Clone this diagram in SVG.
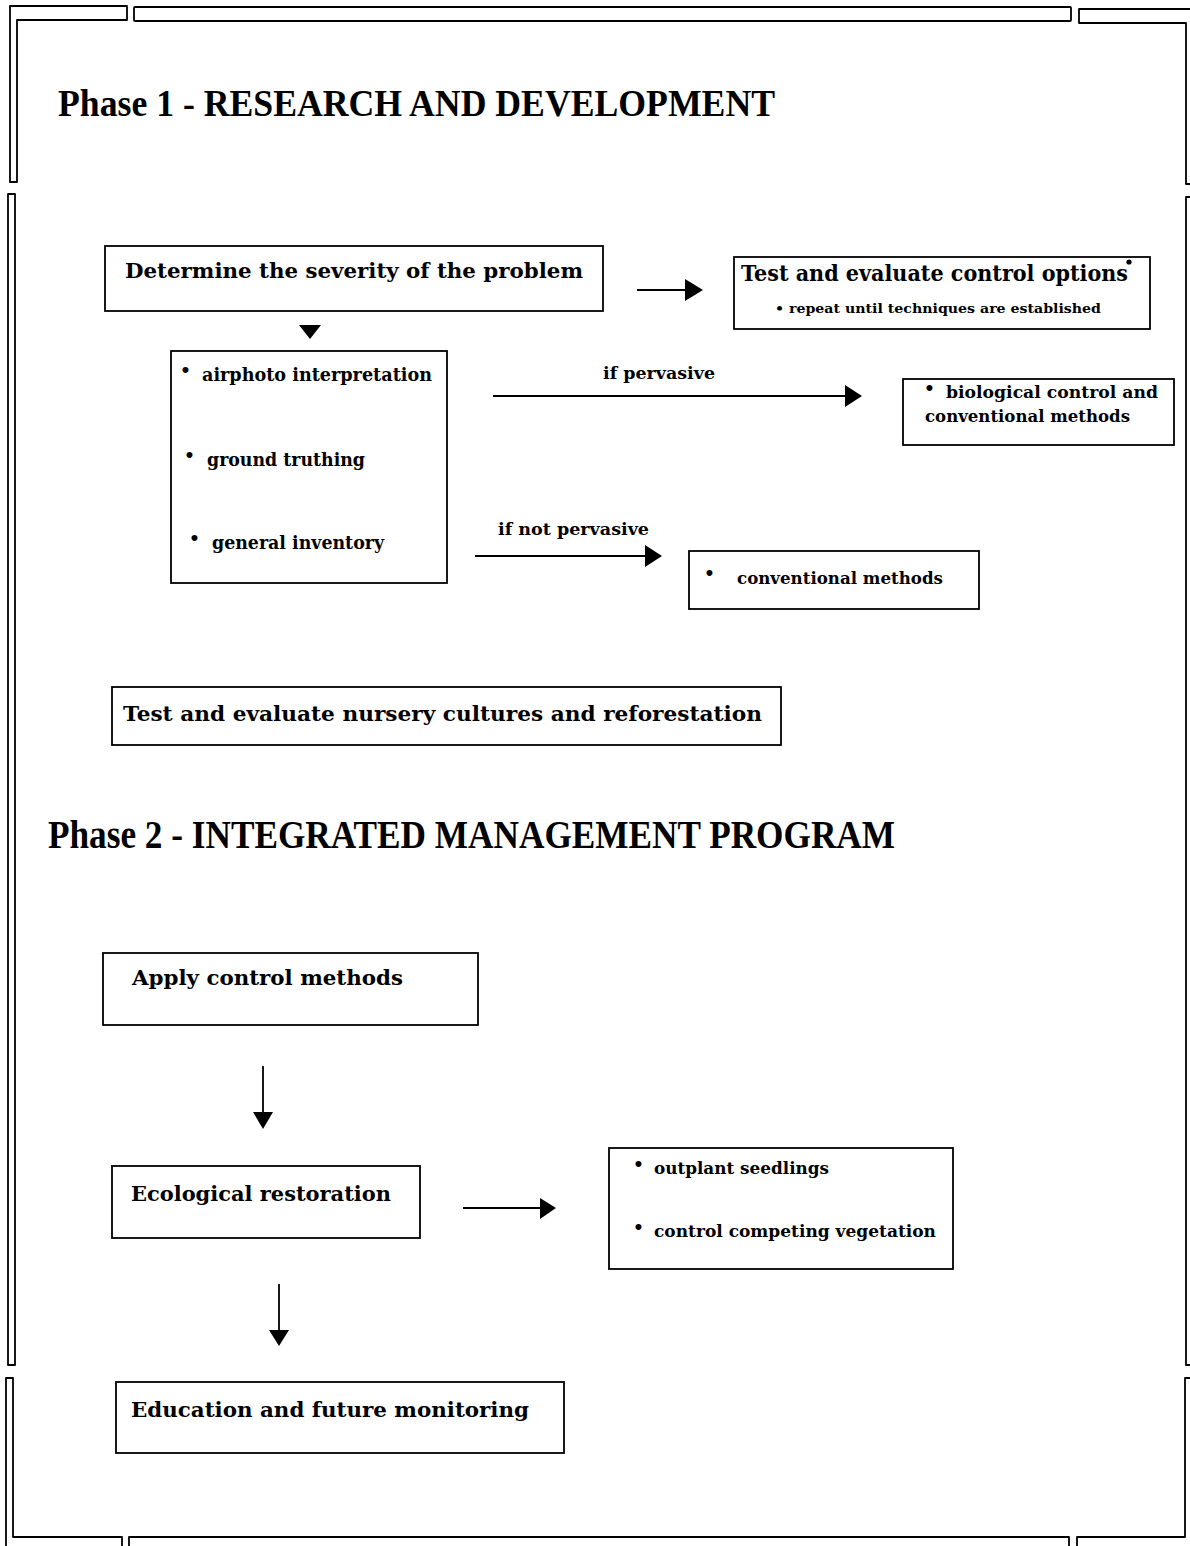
<svg xmlns="http://www.w3.org/2000/svg" width="1190" height="1546" viewBox="0 0 1190 1546">
<style>
.frame{fill:none;stroke:#000;stroke-width:1.8;stroke-linejoin:round}
.box{fill:#fff;stroke:#000;stroke-width:1.8}
.h{font-family:"Liberation Serif","Times New Roman",serif;font-weight:bold;fill:#000}
.t{font-family:"DejaVu Serif","Liberation Serif",serif;font-weight:bold;fill:#000}
.conn line{stroke:#000;stroke-width:1.8}
.conn polygon{fill:#000}
</style>
<rect width="1190" height="1546" fill="#fff"/>
<g id="frame">
<path class="frame" d="M10,182 L10,6 L127,6 L127,20 L17,20 L17,182 Z"/>
<rect class="frame" x="134" y="7" width="937" height="14" rx="1"/>
<path class="frame" d="M1192,9 L1079,9 L1079,23 L1186,23 L1186,184 L1192,184"/>
<path class="frame" d="M8,1365 L8,194 L15,194 L15,1365 Z"/>
<path class="frame" d="M1192,197 L1186,197 L1186,1365 L1192,1365"/>
<path class="frame" d="M6,1546 L6,1378 L13,1378 L13,1537 L122,1537 L122,1546"/>
<path class="frame" d="M129,1546 L129,1537 L1069,1537 L1069,1546"/>
<path class="frame" d="M1077,1546 L1077,1537 L1185,1537 L1185,1378 L1192,1378"/>
</g>
<g id="titles">
<text class="h" x="58" y="116" font-size="37" textLength="717" lengthAdjust="spacingAndGlyphs">Phase 1 - RESEARCH AND DEVELOPMENT</text>
<text class="h" x="48" y="848" font-size="39" textLength="847" lengthAdjust="spacingAndGlyphs">Phase 2 - INTEGRATED MANAGEMENT PROGRAM</text>
</g>
<g id="connectors" class="conn">
<line x1="637" y1="290" x2="686" y2="290"/>
<polygon points="685,279 703,290 685,301"/>
<polygon points="299,325 321,325 310,339"/>
<line x1="493" y1="396" x2="846" y2="396"/>
<polygon points="845,385 862,396 845,407"/>
<line x1="475" y1="556" x2="646" y2="556"/>
<polygon points="645,545 662,556 645,567"/>
<line x1="263" y1="1066" x2="263" y2="1113"/>
<polygon points="253,1112 273,1112 263,1129"/>
<line x1="463" y1="1208" x2="541" y2="1208"/>
<polygon points="540,1198 556,1208 540,1219"/>
<line x1="279" y1="1284" x2="279" y2="1331"/>
<polygon points="269,1330 289,1330 279,1346"/>
</g>
<g id="labels">
<text class="t" x="603" y="379" font-size="16" textLength="112" lengthAdjust="spacingAndGlyphs">if pervasive</text>
<text class="t" x="498" y="535" font-size="16" textLength="151" lengthAdjust="spacingAndGlyphs">if not pervasive</text>
</g>
<g id="n-severity">
<rect class="box" x="105" y="246" width="498" height="65"/>
<text class="t" x="125" y="278" font-size="21" textLength="458" lengthAdjust="spacingAndGlyphs">Determine the severity of the problem</text>
</g>
<g id="n-control-options">
<rect class="box" x="734" y="257" width="416" height="72"/>
<text class="t" x="741" y="281" font-size="22" textLength="387" lengthAdjust="spacingAndGlyphs">Test and evaluate control options</text>
<circle cx="1129" cy="262" r="2.6"/>
<text class="t" x="775" y="313" font-size="12" textLength="326" lengthAdjust="spacingAndGlyphs">• repeat until techniques are established</text>
</g>
<g id="n-assessment">
<rect class="box" x="171" y="351" width="276" height="232"/>
<text class="t" x="180" y="376" font-size="17">•</text>
<text class="t" x="202" y="381" font-size="18" textLength="230" lengthAdjust="spacingAndGlyphs">airphoto interpretation</text>
<text class="t" x="184" y="461" font-size="17">•</text>
<text class="t" x="207" y="466" font-size="18" textLength="158" lengthAdjust="spacingAndGlyphs">ground truthing</text>
<text class="t" x="189" y="544" font-size="17">•</text>
<text class="t" x="212" y="549" font-size="18" textLength="172" lengthAdjust="spacingAndGlyphs">general inventory</text>
</g>
<g id="n-biological">
<rect class="box" x="903" y="379" width="271" height="66"/>
<text class="t" x="924" y="394" font-size="17">•</text>
<text class="t" x="946" y="398" font-size="17" textLength="212" lengthAdjust="spacingAndGlyphs">biological control and</text>
<text class="t" x="925" y="422" font-size="17" textLength="205" lengthAdjust="spacingAndGlyphs">conventional methods</text>
</g>
<g id="n-conventional">
<rect class="box" x="689" y="551" width="290" height="58"/>
<text class="t" x="704" y="579" font-size="17">•</text>
<text class="t" x="737" y="584" font-size="17" textLength="206" lengthAdjust="spacingAndGlyphs">conventional methods</text>
</g>
<g id="n-nursery">
<rect class="box" x="112" y="687" width="669" height="58"/>
<text class="t" x="123" y="721" font-size="21" textLength="639" lengthAdjust="spacingAndGlyphs">Test and evaluate nursery cultures and reforestation</text>
</g>
<g id="n-apply">
<rect class="box" x="103" y="953" width="375" height="72"/>
<text class="t" x="132" y="985" font-size="21" textLength="271" lengthAdjust="spacingAndGlyphs">Apply control methods</text>
</g>
<g id="n-restoration">
<rect class="box" x="112" y="1166" width="308" height="72"/>
<text class="t" x="131" y="1201" font-size="21" textLength="260" lengthAdjust="spacingAndGlyphs">Ecological restoration</text>
</g>
<g id="n-restoration-steps">
<rect class="box" x="609" y="1148" width="344" height="121"/>
<text class="t" x="633" y="1170" font-size="17">•</text>
<text class="t" x="654" y="1174" font-size="17" textLength="175" lengthAdjust="spacingAndGlyphs">outplant seedlings</text>
<text class="t" x="633" y="1233" font-size="17">•</text>
<text class="t" x="654" y="1237" font-size="17" textLength="282" lengthAdjust="spacingAndGlyphs">control competing vegetation</text>
</g>
<g id="n-education">
<rect class="box" x="116" y="1382" width="448" height="71"/>
<text class="t" x="131" y="1417" font-size="21" textLength="398" lengthAdjust="spacingAndGlyphs">Education and future monitoring</text>
</g>
</svg>
